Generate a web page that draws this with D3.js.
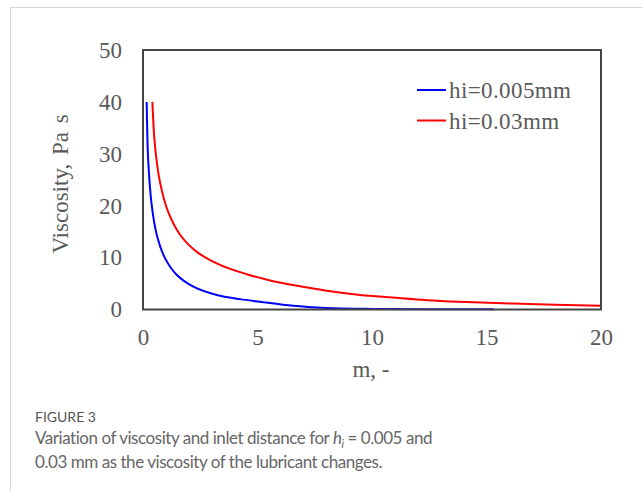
<!DOCTYPE html>
<html>
<head>
<meta charset="utf-8">
<script src="https://cdn.jsdelivr.net/npm/d3@7"></script>
<style>
  body { margin: 0; background: #fff; }
  svg { display: block; }
</style>
</head>
<body>
<svg></svg>
<script>
// values
const blueM = [0.16, 0.19, 0.23, 0.38, 0.6, 0.96, 1.47, 2.2, 3.22, 4.24, 5.1, 6.56, 8.0, 10, 12.5, 15.3]
const blueV = [40, 33.5, 28.5, 20.1, 14.4, 9.9, 6.7, 4.4, 2.8, 2.0, 1.5, 0.7, 0.3, 0.12, 0.06, 0.03]
const redM = [0.41, 0.52, 0.74, 1.1, 1.62, 2.35, 3.36, 4.53, 5.55, 6.56, 8.02, 9.48, 10.9, 12.4, 13.8, 16.5, 20]
const redV = [40, 31.7, 24.6, 18.8, 14.4, 11.1, 8.6, 6.8, 5.6, 4.7, 3.6, 2.8, 2.3, 1.8, 1.5, 1.1, 0.7]
const seriesNames = ['hi=0.005mm', 'hi=0.03mm']
const xTicks = [0, 5, 10, 15, 20]
const yTicks = [0, 10, 20, 30, 40, 50]

function makeChart() {
  const WIDTH = 643
  const HEIGHT = 491
  const LEFT = 143, RIGHT = 601, TOP = 50, BOTTOM = 309.5
  const SERIF = "'Liberation Serif', 'Times New Roman', serif"
  const SANS = "Lato, 'Open Sans', sans-serif"
  const FS = '23px'

  const svg = d3.select('svg')
    .attr('width', WIDTH)
    .attr('height', HEIGHT)

  // card frame
  svg.append('rect')
    .attr('x', 10.5).attr('y', 7.5)
    .attr('width', 700).attr('height', 600)
    .attr('fill', '#fff')
    .attr('stroke', '#d9d9d9')

  const x = d3.scaleLinear().domain([0, 20]).range([LEFT, RIGHT])
  const y = d3.scaleLinear().domain([0, 50]).range([BOTTOM, TOP])

  const series = [
    {name: seriesNames[0], color: '#0000ff', pts: blueM.map((m, i) => [m, blueV[i]])},
    {name: seriesNames[1], color: '#ff0000', pts: redM.map((m, i) => [m, redV[i]])}
  ]

  const line = d3.line()
    .x(d => x(d[0]))
    .y(d => y(d[1]))
    .curve(d3.curveCatmullRom.alpha(0.5))

  svg.selectAll('.series')
    .data(series)
    .enter().append('path')
      .attr('class', 'series')
      .attr('d', d => line(d.pts))
      .attr('fill', 'none')
      .attr('stroke', d => d.color)
      .attr('stroke-width', 2)

  // plot box
  svg.append('rect')
    .attr('x', LEFT).attr('y', TOP)
    .attr('width', RIGHT - LEFT).attr('height', BOTTOM - TOP)
    .attr('fill', 'none')
    .attr('stroke', '#444')
    .attr('stroke-width', 2)

  const xAxis = svg.append('g')
    .attr('transform', `translate(0,${BOTTOM})`)
    .call(d3.axisBottom(x).tickValues(xTicks).tickSize(0).tickPadding(19))
  const yAxis = svg.append('g')
    .attr('transform', `translate(${LEFT},0)`)
    .call(d3.axisLeft(y).tickValues(yTicks).tickSize(0).tickPadding(21))
  for (const ax of [xAxis, yAxis]) {
    ax.select('.domain').remove()
    ax.selectAll('text')
      .attr('fill', '#595959')
      .style('font-family', SERIF)
      .style('font-size', FS)
  }

  svg.append('text')
    .attr('transform', 'translate(68,184) rotate(-90)')
    .attr('text-anchor', 'middle')
    .attr('fill', '#595959')
    .style('font-family', SERIF)
    .style('font-size', FS)
    .style('word-spacing', '3px')
    .text('Viscosity, Pa s')

  svg.append('text')
    .attr('x', 371).attr('y', 377)
    .attr('text-anchor', 'middle')
    .attr('fill', '#595959')
    .style('font-family', SERIF)
    .style('font-size', FS)
    .text('m, -')

  // legend
  const leg = svg.selectAll('.leg')
    .data(series)
    .enter().append('g')
      .attr('class', 'leg')
      .attr('transform', (d, i) => `translate(417,${90 + i * 30.5})`)
  leg.append('line')
    .attr('x1', 0).attr('x2', 29)
    .attr('stroke', d => d.color)
    .attr('stroke-width', 2)
  leg.append('text')
    .attr('x', 32).attr('y', 8)
    .attr('fill', '#595959')
    .style('font-family', SERIF)
    .style('font-size', FS)
    .style('letter-spacing', '0.4px')
    .text(d => d.name)

  // caption
  svg.append('text')
    .attr('x', 35).attr('y', 422)
    .attr('fill', '#555')
    .style('font-family', SANS)
    .style('font-size', '14px')
    .text('FIGURE 3')

  const cap1 = svg.append('text')
    .attr('x', 35).attr('y', 444)
    .attr('fill', '#666')
    .style('font-family', SANS)
    .style('font-size', '17px')
    .style('letter-spacing', '-0.45px')
  cap1.append('tspan').text('Variation of viscosity and inlet distance for ')
  cap1.append('tspan').style('font-style', 'italic').text('h')
  cap1.append('tspan').style('font-style', 'italic').style('font-size', '11px').attr('dy', 4).text('i')
  cap1.append('tspan').attr('dy', -4).text(' = 0.005 and')

  svg.append('text')
    .attr('x', 35).attr('y', 468)
    .attr('fill', '#666')
    .style('font-family', SANS)
    .style('font-size', '17px')
    .style('letter-spacing', '-0.45px')
    .text('0.03 mm as the viscosity of the lubricant changes.')
}

makeChart()
</script>
</body>
</html>
